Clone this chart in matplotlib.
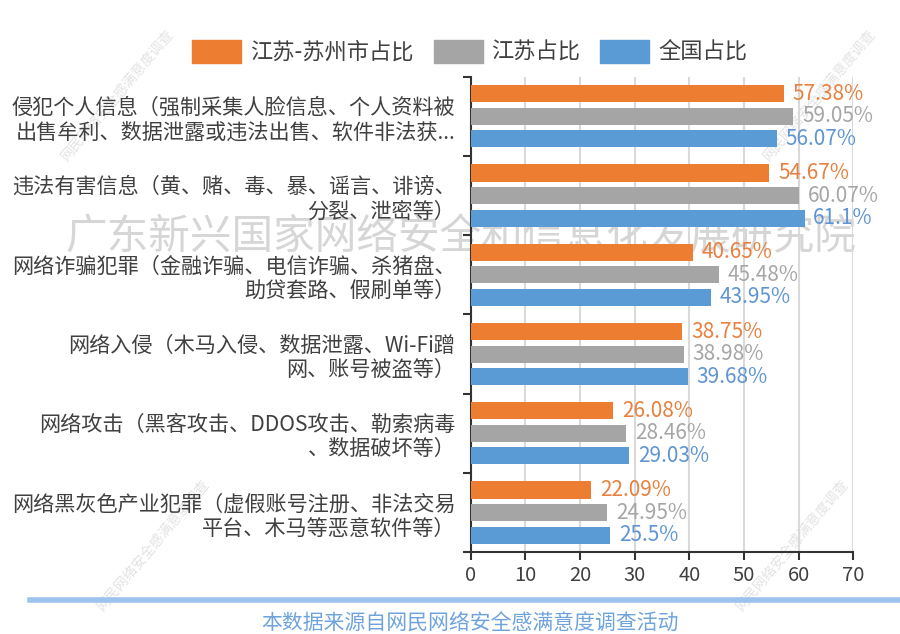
import numpy as np
import matplotlib.pyplot as plt
from matplotlib.patches import Patch

plt.rcParams['font.family'] = ['Noto Sans CJK SC', 'DejaVu Sans']

# Donnees
categories = [
    "侵犯个人信息（强制采集人脸信息、个人资料被\n出售牟利、数据泄露或违法出售、软件非法获...",
    "违法有害信息（黄、赌、毒、暴、谣言、诽谤、\n分裂、泄密等）",
    "网络诈骗犯罪（金融诈骗、电信诈骗、杀猪盘、\n助贷套路、假刷单等）",
    "网络入侵（木马入侵、数据泄露、Wi-Fi蹭\n网、账号被盗等）",
    "网络攻击（黑客攻击、DDOS攻击、勒索病毒\n、数据破坏等）",
    "网络黑灰色产业犯罪（虚假账号注册、非法交易\n平台、木马等恶意软件等）",
]
series_names = ["江苏-苏州市占比", "江苏占比", "全国占比"]
suzhou = [57.38, 54.67, 40.65, 38.75, 26.08, 22.09]
jiangsu = [59.05, 60.07, 45.48, 38.98, 28.46, 24.95]
quanguo = [56.07, 61.1, 43.95, 39.68, 29.03, 25.5]
value_labels = [["57.38%", "54.67%", "40.65%", "38.75%", "26.08%", "22.09%"],
                ["59.05%", "60.07%", "45.48%", "38.98%", "28.46%", "24.95%"],
                ["56.07%", "61.1%", "43.95%", "39.68%", "29.03%", "25.5%"]]
x_ticks = [0, 10, 20, 30, 40, 50, 60, 70]

bar_colors = ['#ED7D31', '#A5A5A5', '#5B9BD5']
text_colors = ['#E8803F', '#A6A6A6', '#5F95D2']

fig = plt.figure(figsize=(9, 6.34), dpi=100)
ax = fig.add_axes([0.523, 0.129, 0.425, 0.750])
ax.patch.set_alpha(0)

y = np.arange(len(categories))
offsets = [-0.285, 0, 0.285]
for k, vals in enumerate([suzhou, jiangsu, quanguo]):
    ax.barh(y + offsets[k], vals, height=0.215, color=bar_colors[k], zorder=3)
    for i, v in enumerate(vals):
        ax.text(v + 1.6, y[i] + offsets[k], value_labels[k][i], color=text_colors[k],
                fontsize=15, va='center', ha='left', zorder=4)

ax.set_ylim(len(categories) - 0.5, -0.5)
ax.set_xlim(0, 70)
ax.set_xticks(x_ticks)
ax.set_yticks(np.arange(-0.5, len(categories)), labels=[''] * (len(categories) + 1))
ax.set_yticks(y, labels=categories, minor=True)
ax.tick_params(axis='y', which='major', length=6, width=1.5, color='#333333')
ax.tick_params(axis='y', which='minor', length=0, pad=11, labelsize=15.2, labelcolor='#404040')
ax.tick_params(axis='x', length=6, width=1.5, color='#333333', labelsize=14.5, labelcolor='#404040')
for lab in ax.get_yticklabels(minor=True):
    lab.set_multialignment('right')
    lab.set_linespacing(1.15)
ax.grid(axis='x', color='#D9D9D9', linewidth=1.5, zorder=0)
for s in ['top', 'right']:
    ax.spines[s].set_visible(False)
for s in ['left', 'bottom']:
    ax.spines[s].set_color('#333333')
    ax.spines[s].set_linewidth(1.5)

handles = [Patch(facecolor=c, edgecolor=c) for c in bar_colors]
fig.legend(handles, series_names, loc='center', bbox_to_anchor=(0.522, 0.918), ncol=3,
           frameon=False, fontsize=16, handlelength=2.2, handleheight=1.2,
           handletextpad=0.4, columnspacing=0.9, labelcolor='#404040')

# filigranes
fig.text(0.512, 0.625, "广东新兴国家网络安全和信息化发展研究院", fontsize=30,
         color='#D6D6D6', ha='center', va='center', zorder=-1)
for (wx, wy) in [(0.13, 0.85), (0.17, 0.14), (0.88, 0.14), (0.91, 0.85)]:
    fig.text(wx, wy, "网民网络安全感满意度调查", fontsize=10, color='#C8C8C8', alpha=0.5,
             rotation=50, ha='center', va='center', zorder=-1)

# pied de page
fig.add_artist(plt.Line2D([0.033, 1.0], [0.053, 0.053], color='#9DC3EC', linewidth=4,
                          transform=fig.transFigure))
fig.text(0.522, 0.016, "本数据来源自网民网络安全感满意度调查活动", fontsize=15,
         color='#6FA3DC', ha='center', va='center')

fig.savefig('out.png', dpi=100)
